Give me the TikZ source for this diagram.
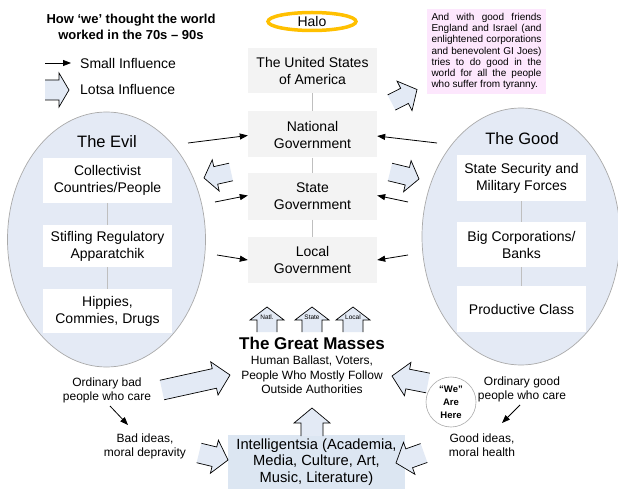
\documentclass[tikz,border=0pt]{standalone}
\usepackage{fontspec}
\setmainfont{Liberation Sans}
\usetikzlibrary{arrows.meta,shapes.geometric}
\definecolor{arrfill}{RGB}{227,234,245}
\definecolor{ellfill}{RGB}{228,234,245}
\definecolor{ellline}{RGB}{170,170,170}
\definecolor{govfill}{RGB}{243,243,243}
\definecolor{intfill}{RGB}{220,230,242}
\definecolor{pinkfill}{RGB}{253,231,253}
\definecolor{linkgray}{RGB}{191,191,191}
\definecolor{halocol}{RGB}{255,192,0}
\newcommand\fs[2]{\fontsize{#1}{#2}\selectfont}
\newcommand\blockarrow[7]{%
  \pgfmathsetmacro\baAng{atan2(-((#4)-(#2)),(#3)-(#1))}%
  \pgfmathsetmacro\baLen{veclen((#3)-(#1),(#4)-(#2))}%
  \pgfmathsetmacro\baNeck{\baLen-(#7)}%
  \begin{scope}[shift={(#1,#2)},rotate=\baAng]
    \fill[arrfill] (0,-#5) -- (\baNeck,-#5) -- (\baNeck,-#6) -- (\baLen,0) -- (\baNeck,#6) -- (\baNeck,#5) -- (0,#5) -- cycle;
    \draw[barline] (0,-#5) -- (\baNeck,-#5) -- (\baNeck,-#6) -- (\baLen,0) -- (\baNeck,#6) -- (\baNeck,#5) -- (0,#5);
  \end{scope}}
\begin{document}
\begin{tikzpicture}[x=1pt,y=-1pt,
  barline/.style={draw=black,line width=0.7pt,line join=miter},
  govbox/.style={rectangle,fill=govfill,minimum width=129pt,minimum height=45pt,inner sep=0pt,align=center,font=\fs{14}{17}},
  sidebox/.style={rectangle,fill=white,minimum width=129pt,minimum height=45pt,inner sep=0pt,align=center,font=\fs{14}{17}},
  link/.style={draw=linkgray,line width=0.8pt},
  smallarr/.style={draw=black,line width=0.8pt,-{Triangle[length=8pt,width=6pt]}},
  txt/.style={inner sep=0pt,align=center}]
\useasboundingbox (0,0) rectangle (618,489);
\fill[white] (0,0) rectangle (618,489);

% title and legend
\node[txt,font=\bfseries\fs{13}{16}] (title) at (131,27) {How ‘we’ thought the world\\worked in the 70s – 90s};
\coordinate (lgA) at (45,63);
\coordinate (lgB) at (71,63);
\draw[smallarr] (lgA) -- (lgB);
\node[txt,anchor=west,font=\fs{14}{17}] (small) at (80,63) {Small Influence};
\blockarrow{45}{90}{69}{90}{10}{17}{10}
\node[txt,anchor=west,font=\fs{14}{17}] (lotsa) at (80,89) {Lotsa Influence};

% halo
\node[ellipse,draw=halocol,line width=3.5pt,minimum width=88pt,minimum height=18pt,inner sep=0pt,font=\fs{14}{17}] (halo) at (312,21.5) {Halo};

% pink box
\node[rectangle,fill=pinkfill,minimum width=119pt,minimum height=85pt,inner sep=0pt] (pink) at (486.5,51.5)
 {\parbox{110pt}{\fs{10}{11.2}\hyphenpenalty=10000\rightskip=0pt\parfillskip=0pt plus 1fil
 And with good friends\linebreak England and Israel (and\linebreak enlightened corporations\linebreak and benevolent GI Joes)\linebreak tries to do good in the\linebreak world for all the people\linebreak who suffer from tyranny.}};

% ellipses
\node[ellipse,fill=ellfill,draw=ellline,line width=0.7pt,minimum width=198pt,minimum height=255pt,inner sep=0pt] (evil) at (106.5,239.5) {};
\node[ellipse,fill=ellfill,draw=ellline,line width=0.7pt,minimum width=198pt,minimum height=257pt,inner sep=0pt] (good) at (521,236.5) {};
\node[txt,font=\fs{16.5}{19}] (evilT) at (107,142) {The Evil};
\node[txt,font=\fs{16.5}{19}] (goodT) at (522,139) {The Good};

% evil boxes
\node[sidebox] (e1) at (107.5,180.5) {Collectivist\\Countries/People};
\node[sidebox,minimum height=42pt] (e2) at (107.5,246) {Stifling Regulatory\\Apparatchik};
\node[sidebox,minimum height=44pt] (e3) at (107.5,311) {Hippies,\\Commies, Drugs};
\draw[link] (e1.south) -- (e2.north);
\draw[link] (e2.south) -- (e3.north);

% good boxes
\node[sidebox,minimum height=46pt] (g1) at (521.5,178) {State Security and\\Military Forces};
\node[sidebox] (g2) at (521.5,244.5) {Big Corporations/\\Banks};
\node[sidebox,minimum height=46pt] (g3) at (521.5,309) {Productive Class};
\draw[link] (g1.south) -- (g2.north);
\draw[link] (g2.south) -- (g3.north);

% government column
\node[govbox] (usa) at (312.5,70.5) {The United States\\of America};
\node[govbox,minimum height=46pt] (nat) at (312.5,134.5) {National\\Government};
\node[govbox,minimum height=46pt] (stg) at (312.5,196.5) {State\\Government};
\node[govbox,minimum height=46pt] (loc) at (312.5,260) {Local\\Government};
\draw[link] (usa.south) -- (nat.north);
\draw[link] (nat.south) -- (stg.north);
\draw[link] (stg.south) -- (loc.north);

% small arrows to government
\coordinate (eN) at (188,143);
\coordinate (eS) at (215,202);
\coordinate (eL) at (217,255);
\coordinate (gN) at (437,143);
\coordinate (gS) at (408,202);
\coordinate (gL) at (408,255);
\draw[smallarr] (eN) -- ([yshift=-1pt]nat.west);
\draw[smallarr] (eS) -- ([yshift=1pt]stg.west);
\draw[smallarr] (eL) -- (loc.west);
\draw[smallarr] (gN) -- ([yshift=-1.5pt]nat.east);
\draw[smallarr] (gS) -- ([yshift=1pt]stg.east);
\draw[smallarr] (gL) -- (loc.east);

% big arrows around government
\blockarrow{391.5}{102.5}{417}{89.5}{8.5}{16.5}{14}
\blockarrow{231}{172}{204}{178}{9}{16}{12}
\blockarrow{390}{172}{419}{179}{9}{16}{12}

% great masses
\blockarrow{267}{332}{267}{307}{10}{17}{13}
\blockarrow{312}{332}{312}{307}{10}{17}{13}
\blockarrow{353}{332}{353}{307}{10}{17}{13}
\node[txt,font=\fs{6.5}{7}] (natl) at (267,317) {Natl.};
\node[txt,font=\fs{6.5}{7}] (statel) at (312,317) {State};
\node[txt,font=\fs{6.5}{7}] (locall) at (353,317) {Local};
\node[txt,font=\bfseries\fs{17}{20}] (masses) at (312,343) {The Great Masses};
\node[txt,font=\fs{12}{14.5}] (massesS) at (312,375) {Human Ballast, Voters,\\People Who Mostly Follow\\Outside Authorities};

% ordinary people
\node[txt,font=\fs{12}{14}] (obad) at (107,390) {Ordinary bad\\people who care};
\node[txt,font=\fs{12}{14}] (bidea) at (145,446.5) {Bad ideas,\\moral depravity};
\node[txt,font=\fs{12}{14}] (ogood) at (522,389) {Ordinary good\\people who care};
\node[txt,font=\fs{12}{14}] (gidea) at (482,445) {Good ideas,\\moral health};
\coordinate (ob1) at (110,406);
\coordinate (ob2) at (128,425);
\coordinate (og1) at (520,405);
\coordinate (og2) at (502,423);
\draw[smallarr] (ob1) -- (ob2);
\draw[smallarr] (og1) -- (og2);

% we are here
\node[circle,draw=ellline,fill=white,line width=0.6pt,minimum size=50pt,inner sep=0pt,align=center,font=\bfseries\fs{9.5}{13}] (we) at (451,402) {“We”\\Are\\Here};

% intelligentsia
\node[rectangle,fill=intfill,minimum width=177pt,minimum height=54pt,inner sep=0pt,align=center,font=\fs{14.7}{16.3}] (intel) at (316.5,462) {Intelligentsia (Academia,\\Media, Culture, Art,\\Music, Literature)};

% big arrows bottom
\blockarrow{162}{390}{230}{375}{10}{17}{16}
\blockarrow{199}{453}{228}{460}{10}{17}{14}
\blockarrow{428}{383}{392}{376}{10}{17}{16}
\blockarrow{424}{453}{396}{463}{10}{17}{14}
\blockarrow{312}{436}{312}{408}{11}{18}{15}
\end{tikzpicture}
\end{document}
